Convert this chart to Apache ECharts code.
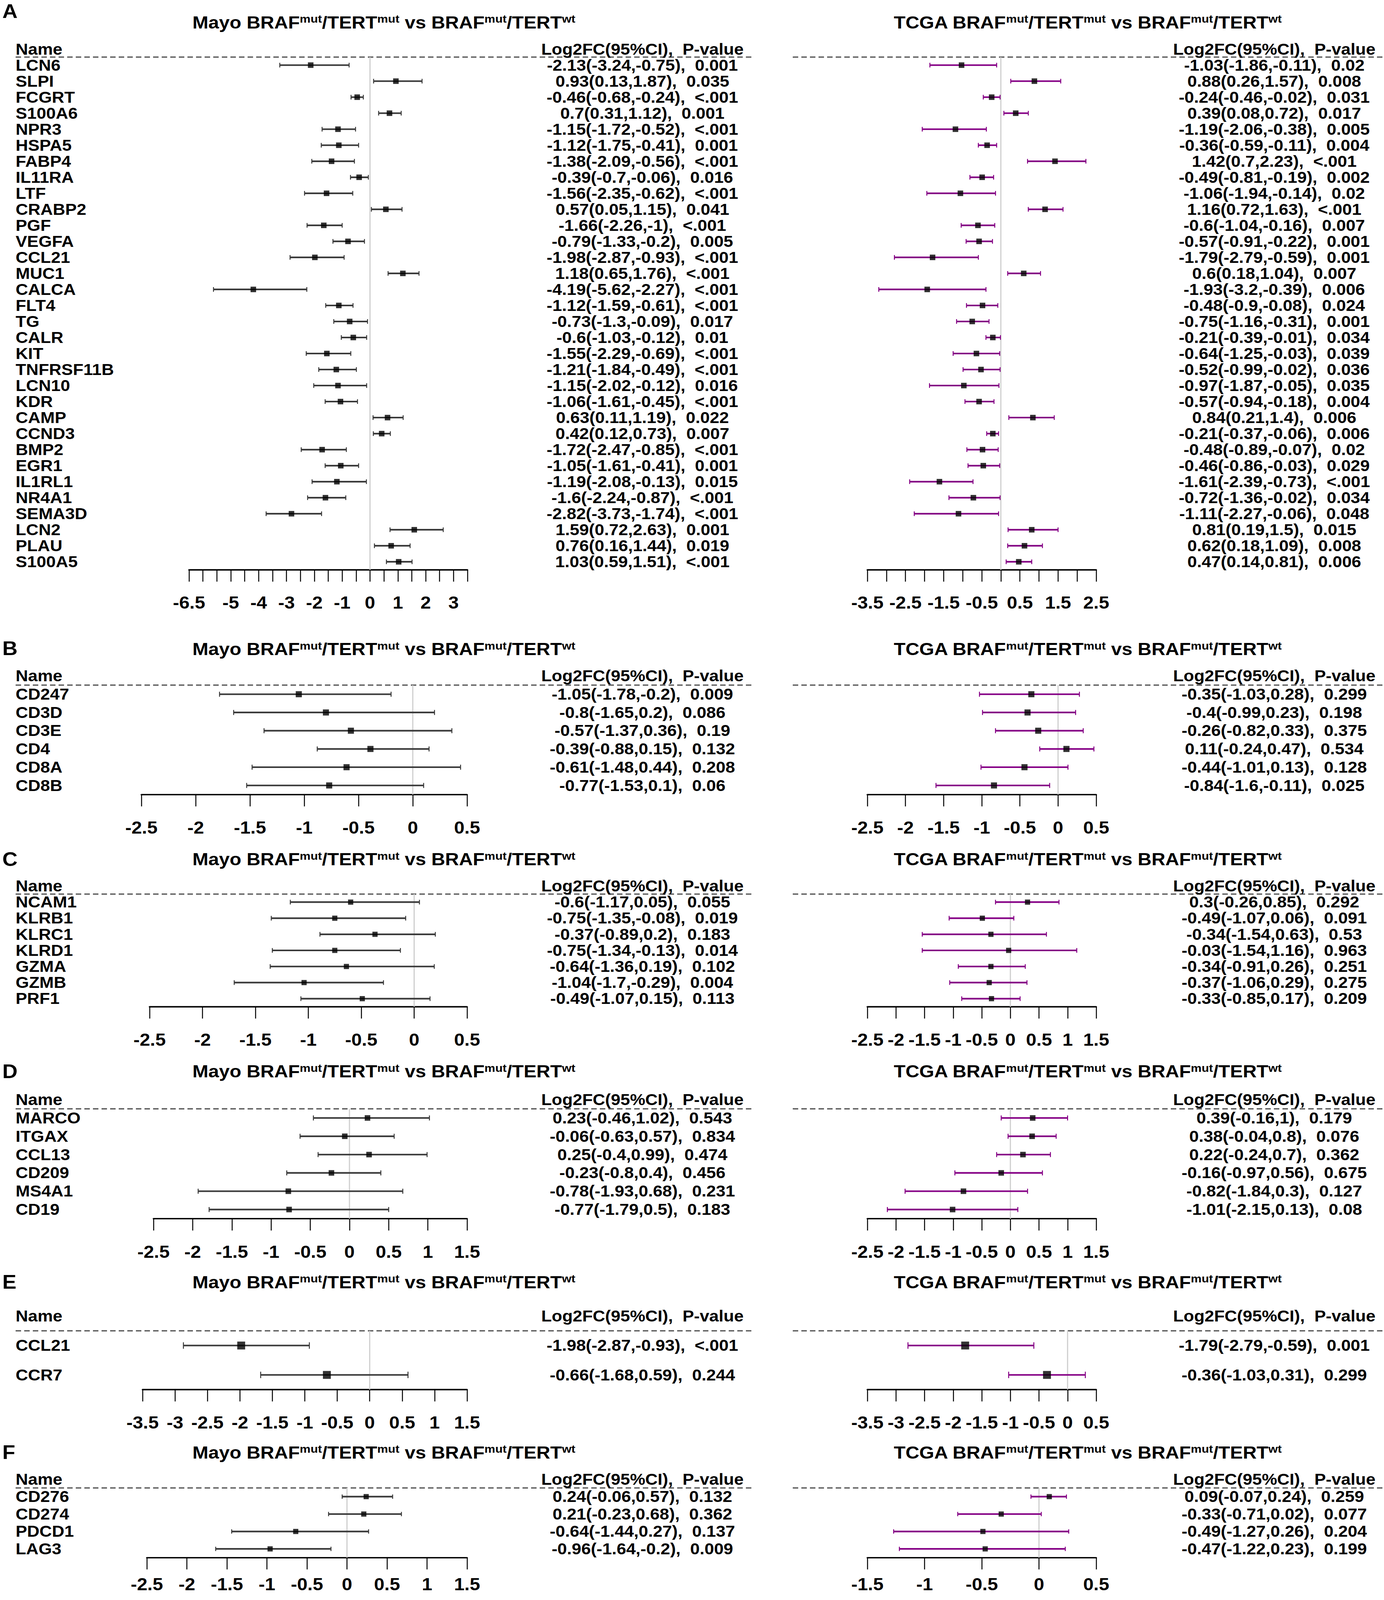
<!DOCTYPE html>
<html>
<head>
<meta charset="utf-8">
<title>Forest plots Mayo vs TCGA</title>
<script src="https://cdn.jsdelivr.net/npm/echarts@6/dist/echarts.min.js"></script>
<style>
  html, body { margin: 0; padding: 0; background: #fff; overflow: hidden; }
  #wrap { width: 3544px; height: 4464px; transform-origin: 0 0; }
  #chart { width: 3544px; height: 4464px; }
</style>
</head>
<body>
<div id="wrap"><div id="chart"></div></div>
<script>
// ---- data: [log2FC, CI low, CI high, p-value] per gene ----
var genesA = ['LCN6', 'SLPI', 'FCGRT', 'S100A6', 'NPR3', 'HSPA5', 'FABP4', 'IL11RA', 'LTF', 'CRABP2',
  'PGF', 'VEGFA', 'CCL21', 'MUC1', 'CALCA', 'FLT4', 'TG', 'CALR', 'KIT', 'TNFRSF11B', 'LCN10', 'KDR',
  'CAMP', 'CCND3', 'BMP2', 'EGR1', 'IL1RL1', 'NR4A1', 'SEMA3D', 'LCN2', 'PLAU', 'S100A5'];
var mayoA = [
  [-2.13, -3.24, -0.75, '0.001'], [0.93, 0.13, 1.87, '0.035'], [-0.46, -0.68, -0.24, '<.001'],
  [0.7, 0.31, 1.12, '0.001'], [-1.15, -1.72, -0.52, '<.001'], [-1.12, -1.75, -0.41, '0.001'],
  [-1.38, -2.09, -0.56, '<.001'], [-0.39, -0.7, -0.06, '0.016'], [-1.56, -2.35, -0.62, '<.001'],
  [0.57, 0.05, 1.15, '0.041'], [-1.66, -2.26, -1, '<.001'], [-0.79, -1.33, -0.2, '0.005'],
  [-1.98, -2.87, -0.93, '<.001'], [1.18, 0.65, 1.76, '<.001'], [-4.19, -5.62, -2.27, '<.001'],
  [-1.12, -1.59, -0.61, '<.001'], [-0.73, -1.3, -0.09, '0.017'], [-0.6, -1.03, -0.12, '0.01'],
  [-1.55, -2.29, -0.69, '<.001'], [-1.21, -1.84, -0.49, '<.001'], [-1.15, -2.02, -0.12, '0.016'],
  [-1.06, -1.61, -0.45, '<.001'], [0.63, 0.11, 1.19, '0.022'], [0.42, 0.12, 0.73, '0.007'],
  [-1.72, -2.47, -0.85, '<.001'], [-1.05, -1.61, -0.41, '0.001'], [-1.19, -2.08, -0.13, '0.015'],
  [-1.6, -2.24, -0.87, '<.001'], [-2.82, -3.73, -1.74, '<.001'], [1.59, 0.72, 2.63, '0.001'],
  [0.76, 0.16, 1.44, '0.019'], [1.03, 0.59, 1.51, '<.001']
];
var tcgaA = [
  [-1.03, -1.86, -0.11, '0.02'], [0.88, 0.26, 1.57, '0.008'], [-0.24, -0.46, -0.02, '0.031'],
  [0.39, 0.08, 0.72, '0.017'], [-1.19, -2.06, -0.38, '0.005'], [-0.36, -0.59, -0.11, '0.004'],
  [1.42, 0.7, 2.23, '<.001'], [-0.49, -0.81, -0.19, '0.002'], [-1.06, -1.94, -0.14, '0.02'],
  [1.16, 0.72, 1.63, '<.001'], [-0.6, -1.04, -0.16, '0.007'], [-0.57, -0.91, -0.22, '0.001'],
  [-1.79, -2.79, -0.59, '0.001'], [0.6, 0.18, 1.04, '0.007'], [-1.93, -3.2, -0.39, '0.006'],
  [-0.48, -0.9, -0.08, '0.024'], [-0.75, -1.16, -0.31, '0.001'], [-0.21, -0.39, -0.01, '0.034'],
  [-0.64, -1.25, -0.03, '0.039'], [-0.52, -0.99, -0.02, '0.036'], [-0.97, -1.87, -0.05, '0.035'],
  [-0.57, -0.94, -0.18, '0.004'], [0.84, 0.21, 1.4, '0.006'], [-0.21, -0.37, -0.06, '0.006'],
  [-0.48, -0.89, -0.07, '0.02'], [-0.46, -0.86, -0.03, '0.029'], [-1.61, -2.39, -0.73, '<.001'],
  [-0.72, -1.36, -0.02, '0.034'], [-1.11, -2.27, -0.06, '0.048'], [0.81, 0.19, 1.5, '0.015'],
  [0.62, 0.18, 1.09, '0.008'], [0.47, 0.14, 0.81, '0.006']
];

var genesB = ['CD247', 'CD3D', 'CD3E', 'CD4', 'CD8A', 'CD8B'];
var mayoB = [
  [-1.05, -1.78, -0.2, '0.009'], [-0.8, -1.65, 0.2, '0.086'], [-0.57, -1.37, 0.36, '0.19'],
  [-0.39, -0.88, 0.15, '0.132'], [-0.61, -1.48, 0.44, '0.208'], [-0.77, -1.53, 0.1, '0.06']
];
var tcgaB = [
  [-0.35, -1.03, 0.28, '0.299'], [-0.4, -0.99, 0.23, '0.198'], [-0.26, -0.82, 0.33, '0.375'],
  [0.11, -0.24, 0.47, '0.534'], [-0.44, -1.01, 0.13, '0.128'], [-0.84, -1.6, -0.11, '0.025']
];

var genesC = ['NCAM1', 'KLRB1', 'KLRC1', 'KLRD1', 'GZMA', 'GZMB', 'PRF1'];
var mayoC = [
  [-0.6, -1.17, 0.05, '0.055'], [-0.75, -1.35, -0.08, '0.019'], [-0.37, -0.89, 0.2, '0.183'],
  [-0.75, -1.34, -0.13, '0.014'], [-0.64, -1.36, 0.19, '0.102'], [-1.04, -1.7, -0.29, '0.004'],
  [-0.49, -1.07, 0.15, '0.113']
];
var tcgaC = [
  [0.3, -0.26, 0.85, '0.292'], [-0.49, -1.07, 0.06, '0.091'], [-0.34, -1.54, 0.63, '0.53'],
  [-0.03, -1.54, 1.16, '0.963'], [-0.34, -0.91, 0.26, '0.251'], [-0.37, -1.06, 0.29, '0.275'],
  [-0.33, -0.85, 0.17, '0.209']
];

var genesD = ['MARCO', 'ITGAX', 'CCL13', 'CD209', 'MS4A1', 'CD19'];
var mayoD = [
  [0.23, -0.46, 1.02, '0.543'], [-0.06, -0.63, 0.57, '0.834'], [0.25, -0.4, 0.99, '0.474'],
  [-0.23, -0.8, 0.4, '0.456'], [-0.78, -1.93, 0.68, '0.231'], [-0.77, -1.79, 0.5, '0.183']
];
var tcgaD = [
  [0.39, -0.16, 1, '0.179'], [0.38, -0.04, 0.8, '0.076'], [0.22, -0.24, 0.7, '0.362'],
  [-0.16, -0.97, 0.56, '0.675'], [-0.82, -1.84, 0.3, '0.127'], [-1.01, -2.15, 0.13, '0.08']
];

var genesE = ['CCL21', 'CCR7'];
var mayoE = [[-1.98, -2.87, -0.93, '<.001'], [-0.66, -1.68, 0.59, '0.244']];
var tcgaE = [[-1.79, -2.79, -0.59, '0.001'], [-0.36, -1.03, 0.31, '0.299']];

var genesF = ['CD276', 'CD274', 'PDCD1', 'LAG3'];
var mayoF = [
  [0.24, -0.06, 0.57, '0.132'], [0.21, -0.23, 0.68, '0.362'],
  [-0.64, -1.44, 0.27, '0.137'], [-0.96, -1.64, -0.2, '0.009']
];
var tcgaF = [
  [0.09, -0.07, 0.24, '0.259'], [-0.33, -0.71, 0.02, '0.077'],
  [-0.49, -1.27, 0.26, '0.204'], [-0.47, -1.22, 0.23, '0.199']
];

// tick labels shown under each axis
var ticksMayoA = [-6.5, -5, -4, -3, -2, -1, 0, 1, 2, 3];
var ticksTcgaA = [-3.5, -2.5, -1.5, -0.5, 0.5, 1.5, 2.5];
var ticksB = [-2.5, -2, -1.5, -1, -0.5, 0, 0.5];
var ticksCD = [-2.5, -2, -1.5, -1, -0.5, 0, 0.5, 1, 1.5];
var ticksMayoE = [-3.5, -3, -2.5, -2, -1.5, -1, -0.5, 0, 0.5, 1, 1.5];
var ticksTcgaE = [-3.5, -3, -2.5, -2, -1.5, -1, -0.5, 0, 0.5];
var ticksTcgaF = [-1.5, -1, -0.5, 0, 0.5];

var HEADER = 'Log2FC(95%CI),  P-value';
var FONT = "'Liberation Sans', Arial, Helvetica, sans-serif";
var PAGE_H = 4464;

// ---- layout ----
var sections = [
  { letter: 'A', genes: genesA, mayo: mayoA, tcga: tcgaA, letterY: 31, titleY: 62, headerY: 137, step: 44.7, box: 15.5, cap: 6.5, labelGap: 68,
    mayoAxis: { min: -6.5, max: 3.5, x0: 484, x1: 1197, ticks: ticksMayoA },
    tcgaAxis: { min: -3.5, max: 2.5, x0: 2221, x1: 2807, ticks: ticksTcgaA } },
  { letter: 'B', genes: genesB, mayo: mayoB, tcga: tcgaB, letterY: 1809, titleY: 1811, headerY: 1886, step: 50.9, box: 17, cap: 7, labelGap: 68,
    mayoAxis: { min: -2.5, max: 0.5, x0: 362, x1: 1196, ticks: ticksB },
    tcgaAxis: { min: -2.5, max: 0.5, x0: 2221, x1: 2807, ticks: ticksB } },
  { letter: 'C', genes: genesC, mayo: mayoC, tcga: tcgaC, letterY: 2397, titleY: 2397, headerY: 2472, step: 44.9, box: 14.5, cap: 6.5, labelGap: 68,
    mayoAxis: { min: -2.5, max: 0.5, x0: 383, x1: 1196, ticks: ticksB },
    tcgaAxis: { min: -2.5, max: 1.5, x0: 2221, x1: 2807, ticks: ticksCD } },
  { letter: 'D', genes: genesD, mayo: mayoD, tcga: tcgaD, letterY: 2989, titleY: 2989, headerY: 3068, step: 51.1, box: 15.5, cap: 7, labelGap: 68,
    mayoAxis: { min: -2.5, max: 1.5, x0: 393, x1: 1196, ticks: ticksCD },
    tcgaAxis: { min: -2.5, max: 1.5, x0: 2221, x1: 2807, ticks: ticksCD } },
  { letter: 'E', genes: genesE, mayo: mayoE, tcga: tcgaE, letterY: 3577, titleY: 3577, headerY: 3672, step: 82, box: 22, cap: 9, labelGap: 68,
    mayoAxis: { min: -3.5, max: 1.5, x0: 365, x1: 1196, ticks: ticksMayoE },
    tcgaAxis: { min: -3.5, max: 0.5, x0: 2221, x1: 2807, ticks: ticksTcgaE } },
  { letter: 'F', genes: genesF, mayo: mayoF, tcga: tcgaF, letterY: 4052, titleY: 4052, headerY: 4127, step: 48.6, box: 14.5, cap: 6, labelGap: 50,
    mayoAxis: { min: -2.5, max: 1.5, x0: 376, x1: 1196, ticks: ticksCD },
    tcgaAxis: { min: -1.5, max: 0.5, x0: 2221, x1: 2807, ticks: ticksTcgaF } }
];

var sides = {
  mayo: { prefix: 'Mayo', titleX: 983, textX: 1645, dashX0: 40, dashX1: 1926, ci: '#3a3a3a', names: true },
  tcga: { prefix: 'TCGA', titleX: 2785, textX: 3263, dashX0: 2030, dashX1: 3544, ci: '#850085', names: false }
};

function fmt(r) {
  return r[0] + '(' + r[1] + ',' + r[2] + '),  ' + r[3];
}

var grids = [], xAxes = [], yAxes = [], series = [], graphics = [];

function addPanel(sec, side, rows, ax) {
  var gi = grids.length;
  var n = rows.length;
  var yTop = sec.headerY - sec.step / 2;

  grids.push({ left: ax.x0, top: yTop, width: ax.x1 - ax.x0, height: (n + 1) * sec.step });

  xAxes.push({
    gridIndex: gi, type: 'value', min: ax.min, max: ax.max, interval: 0.5, position: 'bottom',
    splitLine: { show: false },
    axisLine: { show: true, onZero: false, lineStyle: { color: '#000', width: 4 } },
    axisTick: { show: true, inside: false, length: 33, lineStyle: { color: '#000', width: 2.5 } },
    axisLabel: {
      margin: sec.labelGap, fontSize: 48, fontWeight: 'bold', color: '#000', fontFamily: FONT,
      showMinLabel: true, showMaxLabel: true,
      formatter: function (v) {
        for (var i = 0; i < ax.ticks.length; i++) {
          if (Math.abs(ax.ticks[i] - v) < 1e-9) return String(ax.ticks[i]);
        }
        return '';
      }
    }
  });

  // names column (left) and estimate text column (right)
  yAxes.push({
    gridIndex: gi, type: 'category', inverse: true, position: 'left',
    data: ['Name'].concat(sec.genes),
    axisLine: { show: false, onZero: false }, axisTick: { show: false }, splitLine: { show: false },
    axisLabel: {
      show: side.names, interval: 0, align: 'left', margin: ax.x0 - 40,
      fontSize: 44, fontWeight: 'bold', color: '#000', fontFamily: FONT
    }
  });
  yAxes.push({
    gridIndex: gi, type: 'category', inverse: true, position: 'right',
    data: [HEADER].concat(rows.map(fmt)),
    axisLine: { show: false, onZero: false }, axisTick: { show: false }, splitLine: { show: false },
    axisLabel: {
      interval: 0, align: 'center', margin: side.textX - ax.x1,
      fontSize: 44, fontWeight: 'bold', color: '#000', fontFamily: FONT
    }
  });
  var yi = yAxes.length - 2;

  // zero reference line, from the dashed header rule down to the axis
  series.push({
    type: 'custom', xAxisIndex: gi, yAxisIndex: yi, silent: true, z: 1, clip: false,
    data: [[0, 1]], encode: { x: 0, y: 1 },
    renderItem: function (params, api) {
      var p = api.coord([0, 1]);
      var band = api.size([0, 1])[1];
      var cs = params.coordSys;
      return {
        type: 'line',
        shape: { x1: p[0], y1: p[1] - band / 2, x2: p[0], y2: cs.y + cs.height },
        style: { stroke: '#cfcfcf', lineWidth: 3 }
      };
    }
  });

  // confidence intervals with end caps
  series.push({
    type: 'custom', xAxisIndex: gi, yAxisIndex: yi, silent: true, z: 2, clip: false,
    data: rows.map(function (r, i) { return [r[1], r[2], i + 1]; }),
    encode: { x: [0, 1], y: 2 },
    renderItem: function (params, api) {
      var a = api.coord([api.value(0), api.value(2)]);
      var b = api.coord([api.value(1), api.value(2)]);
      var c = sec.cap;
      return {
        type: 'group',
        children: [
          { type: 'line', shape: { x1: a[0], y1: a[1], x2: b[0], y2: b[1] }, style: { stroke: side.ci, lineWidth: 4.5 } },
          { type: 'line', shape: { x1: a[0], y1: a[1] - c, x2: a[0], y2: a[1] + c }, style: { stroke: side.ci, lineWidth: 2.5 } },
          { type: 'line', shape: { x1: b[0], y1: b[1] - c, x2: b[0], y2: b[1] + c }, style: { stroke: side.ci, lineWidth: 2.5 } }
        ]
      };
    }
  });

  // point estimates
  series.push({
    type: 'scatter', xAxisIndex: gi, yAxisIndex: yi, silent: true, z: 3,
    symbol: 'rect', symbolSize: [sec.box * 0.92, sec.box],
    itemStyle: { color: '#000' },
    data: rows.map(function (r, i) { return [r[0], i + 1]; })
  });

  // title and dashed header rule
  graphics.push({
    type: 'text', x: side.titleX, y: sec.titleY, silent: true,
    style: {
      text: side.prefix + ' BRAF{s|mut}/TERT{s|mut} vs BRAF{s|mut}/TERT{s|wt}',
      fontSize: 49, fontWeight: 'bold', fontFamily: FONT, fill: '#000', lineHeight: 50,
      align: 'center', verticalAlign: 'middle', textAlign: 'center', textVerticalAlign: 'middle',
      rich: { s: { fontSize: 31, fontWeight: 'bold', fontFamily: FONT, verticalAlign: 'top', lineHeight: 31 } }
    }
  });
  var yd = sec.headerY + sec.step / 2;
  graphics.push({
    type: 'line', silent: true,
    shape: { x1: side.dashX0, y1: yd, x2: side.dashX1, y2: yd },
    style: { stroke: '#555', lineWidth: 3.5, lineDash: [14, 8] }
  });
}

sections.forEach(function (sec) {
  graphics.push({
    type: 'text', x: 6, y: sec.letterY, silent: true,
    style: {
      text: sec.letter, fontSize: 54, fontWeight: 'bold', fontFamily: FONT, fill: '#000',
      align: 'left', verticalAlign: 'middle', textAlign: 'left', textVerticalAlign: 'middle'
    }
  });
  addPanel(sec, sides.mayo, sec.mayo, sec.mayoAxis);
  addPanel(sec, sides.tcga, sec.tcga, sec.tcgaAxis);
});

// the browser viewport can be shorter than the figure: squeeze it vertically to fit
var fit = Math.min(1, window.innerHeight / PAGE_H);
if (fit < 1) {
  document.getElementById('wrap').style.transform = 'scaleY(' + fit + ')';
}

var chart = echarts.init(document.getElementById('chart'), null, { renderer: 'svg' });
chart.setOption({
  animation: false,
  backgroundColor: '#fff',
  textStyle: { fontFamily: FONT },
  grid: grids,
  xAxis: xAxes,
  yAxis: yAxes,
  series: series,
  graphic: graphics
});
</script>
</body>
</html>
